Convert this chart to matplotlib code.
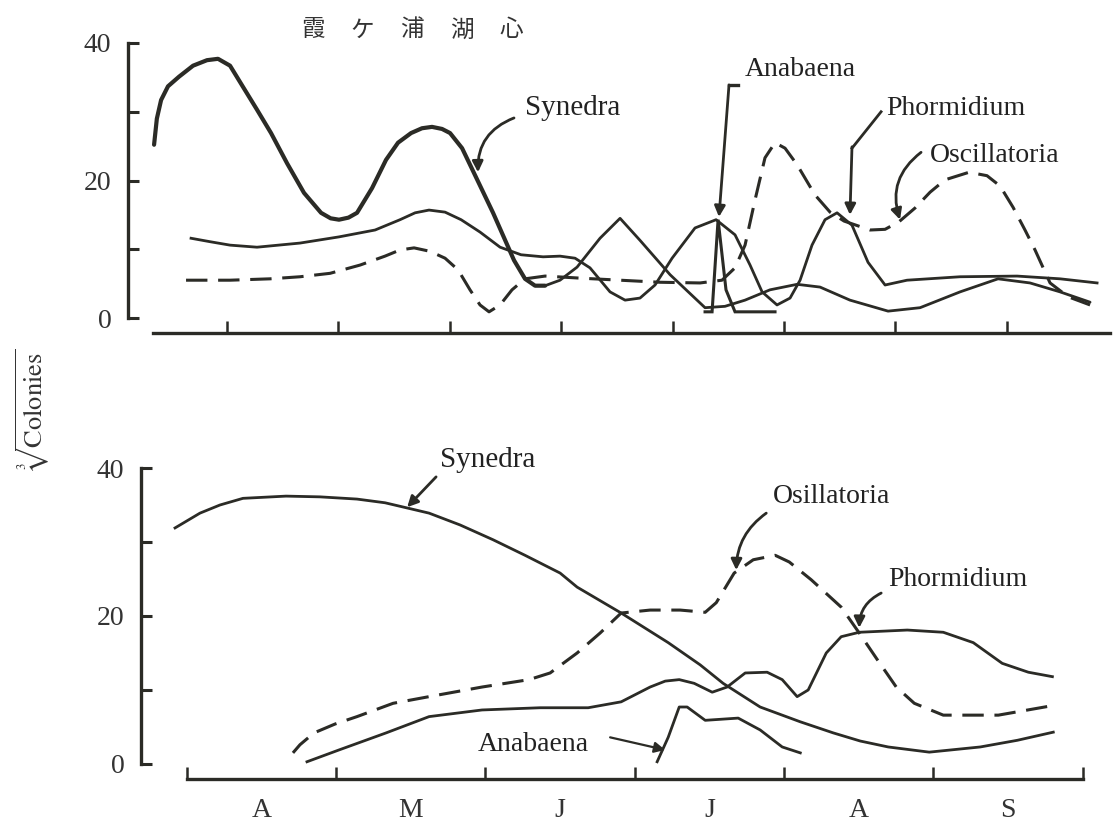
import matplotlib
matplotlib.use("Agg")
import matplotlib.pyplot as plt
import numpy as np

plt.rcParams['font.family'] = ['Liberation Serif', 'DejaVu Sans']
plt.rcParams['mathtext.fontset'] = 'stix'

# ---------------- data: top panel (霞ヶ浦湖心) ----------------
top_synedra_x = [-0.655, -0.630, -0.592, -0.530, -0.431, -0.305, -0.180, -0.081, 0.027, 0.144, 0.269,
                 0.395, 0.539, 0.691, 0.844, 0.930, 1.005, 1.090, 1.167, 1.302, 1.427, 1.535, 1.652,
                 1.750, 1.840, 1.930, 2.002, 2.110, 2.190, 2.388, 2.576, 2.675, 2.765, 2.855]
top_synedra_y = [25.2, 29.0, 31.7, 33.7, 35.1, 36.7, 37.5, 37.7, 36.7, 33.6, 30.3,
                 26.9, 22.5, 18.2, 15.3, 14.5, 14.3, 14.6, 15.3, 18.9, 23.0, 25.5, 26.9,
                 27.6, 27.8, 27.5, 26.9, 24.7, 22.0, 15.3, 8.4, 5.7, 4.7, 4.7]
top_synedra2_x = [2.855, 2.989, 3.142, 3.348, 3.528, 3.707, 3.977, 4.291, 4.470, 4.650,
                  4.874, 5.117, 5.323, 5.592, 5.934, 6.221, 6.580, 6.921, 7.208, 7.478, 7.747]
top_synedra2_y = [4.7, 5.5, 7.4, 11.6, 14.5, 11.3, 6.3, 1.5, 1.7, 2.6,
                  4.1, 4.9, 4.5, 2.6, 1.0, 1.5, 3.8, 5.7, 5.1, 3.8, 2.3]

top_phorm_x = [-0.323, -0.153, 0.027, 0.269, 0.655, 1.005, 1.329, 1.553, 1.688, 1.813,
               1.957, 2.101, 2.271, 2.451, 2.639, 2.837, 2.989, 3.124, 3.258, 3.438,
               3.573, 3.707, 3.842, 3.995, 4.201, 4.390, 4.560, 4.695, 4.803, 4.937,
               5.054, 5.144, 5.251, 5.368, 5.476, 5.610, 5.754, 5.907, 6.104, 6.580,
               7.092, 7.478, 7.810]
top_phorm_y = [11.6, 11.1, 10.6, 10.3, 10.9, 11.8, 12.8, 14.3, 15.3, 15.7,
               15.4, 14.3, 12.5, 10.3, 9.2, 8.9, 9.0, 8.7, 7.3, 3.8,
               2.6, 2.9, 4.8, 8.7, 13.1, 14.3, 12.1, 7.7, 3.8, 1.9,
               2.9, 5.5, 10.6, 14.3, 15.3, 13.5, 8.1, 4.8, 5.5, 6.0,
               6.1, 5.7, 5.1]

top_oscill_x = [-0.368, 0.027, 0.386, 0.655, 0.925, 1.194, 1.418, 1.553, 1.679, 1.822,
                1.957, 2.074, 2.181, 2.271, 2.352, 2.451, 2.558, 2.675, 2.855, 3.169,
                3.528, 3.887, 4.246, 4.443, 4.560, 4.650, 4.740, 4.829, 4.919, 5.009,
                5.117, 5.278, 5.413, 5.539, 5.772, 5.907, 6.032, 6.176, 6.311, 6.445,
                6.661, 6.822, 6.939, 7.056, 7.163, 7.253, 7.388, 7.549, 7.747]
top_oscill_y = [5.5, 5.5, 5.7, 6.0, 6.5, 7.7, 9.0, 9.9, 10.2, 9.7,
                8.7, 7.0, 4.1, 1.9, 0.9, 1.9, 4.1, 5.7, 6.1, 5.8,
                5.5, 5.2, 5.1, 5.5, 7.3, 10.6, 17.2, 23.3, 25.5, 24.7,
                22.3, 17.9, 15.4, 14.1, 12.8, 12.9, 14.0, 16.0, 18.3, 20.1,
                21.2, 20.7, 19.2, 16.1, 12.8, 9.9, 5.1, 3.1, 1.9]

top_anab_x = [4.291, 4.354, 4.408, 4.479, 4.560, 4.919]
top_anab_y = [0.9, 0.9, 14.3, 4.1, 0.9, 0.9]

# ---------------- data: bottom panel ----------------
bot_synedra_x = [-0.080, 0.087, 0.221, 0.375, 0.664, 0.891, 1.139, 1.327, 1.475, 1.622,
                 1.830, 2.051, 2.265, 2.500, 2.614, 2.909, 3.224, 3.438, 3.592, 3.840,
                 4.109, 4.330, 4.511, 4.698, 4.973, 5.315, 5.563, 5.804]
bot_synedra_y = [31.9, 33.9, 35.0, 35.9, 36.2, 36.1, 35.8, 35.3, 34.6, 33.9,
                 32.3, 30.3, 28.2, 25.8, 23.9, 20.4, 16.4, 13.4, 10.9, 7.7,
                 5.7, 4.2, 3.1, 2.3, 1.6, 2.3, 3.2, 4.3]

bot_oscill_x = [0.710, 0.757, 0.851, 0.992, 1.139, 1.381, 1.622, 1.977, 2.292, 2.433,
                2.614, 2.768, 2.909, 3.103, 3.304, 3.472, 3.546, 3.666, 3.794, 3.941,
                4.035, 4.182, 4.383, 4.504, 4.625, 4.752, 4.873, 5.067, 5.436, 5.831]
bot_oscill_y = [1.5, 2.6, 4.2, 5.4, 6.4, 8.2, 9.1, 10.4, 11.4, 12.3,
                15.0, 17.7, 20.4, 20.8, 20.8, 20.5, 21.8, 25.8, 27.6, 28.2,
                27.3, 24.9, 21.2, 17.7, 14.1, 10.4, 8.2, 6.6, 6.6, 8.0]

bot_phorm_x = [0.804, 1.019, 1.334, 1.622, 1.977, 2.366, 2.688, 2.909, 3.103, 3.204,
               3.298, 3.398, 3.519, 3.619, 3.740, 3.887, 3.988, 4.088, 4.162, 4.283,
               4.383, 4.504, 4.826, 5.067, 5.268, 5.462, 5.637, 5.798]
bot_phorm_y = [0.3, 1.9, 4.2, 6.4, 7.3, 7.6, 7.6, 8.4, 10.4, 11.2,
               11.4, 10.9, 9.7, 10.4, 12.3, 12.4, 11.4, 9.1, 10.0, 15.0,
               17.2, 17.8, 18.1, 17.8, 16.4, 13.6, 12.4, 11.8]

bot_anab_x = [3.150, 3.224, 3.298, 3.351, 3.472, 3.693, 3.840, 3.988, 4.109]
bot_anab_y = [0.3, 3.6, 7.7, 7.7, 5.9, 6.2, 4.6, 2.3, 1.5]

month_labels = ['A', 'M', 'J', 'J', 'A', 'S']
yticks = [0, 20, 40]
title_chars = ['霞', 'ケ', '浦', '湖', '心']

INK = '#2b2b26'
W, H = 1115, 832
fig = plt.figure(figsize=(W / 100, H / 100), dpi=100)
fig.patch.set_facecolor('white')

DASH = (0, (7, 3.5))
FS = 20


def style_axes(ax, xb):
    for s in ['top', 'right']:
        ax.spines[s].set_visible(False)
    for s in ['left', 'bottom']:
        ax.spines[s].set_linewidth(2.4)
        ax.spines[s].set_color(INK)
        ax.spines[s].set_capstyle('projecting')
    ax.spines['left'].set_bounds(0, 40)
    ax.spines['bottom'].set_bounds(*xb)
    ax.set_yticks(yticks)
    ax.set_yticks([10, 30], minor=True)
    ax.tick_params(axis='y', which='both', direction='in', length=8, width=2.2,
                   colors=INK, labelsize=FS, pad=12, labelcolor='#333333')
    ax.tick_params(axis='x', which='major', direction='in', length=9, width=1.8,
                   colors=INK)
    ax.set_facecolor('none')


# ---------------- top panel ----------------
ax1 = fig.add_axes([128 / W, 1 - 333 / H, (1112 - 128) / W, (333 - 43) / H])
ax1.set_xlim(-0.889, 7.944)
ax1.set_ylim(-2.18, 40)
style_axes(ax1, (-0.664, 7.93))
ax1.set_xticks(range(8))
ax1.set_xticklabels([])

ax1.plot(top_synedra_x, top_synedra_y, color=INK, lw=3.0, solid_capstyle='round',
         solid_joinstyle='round')
ax1.plot(top_synedra2_x, top_synedra2_y, color=INK, lw=2.0, solid_capstyle='round',
         solid_joinstyle='round')
ax1.plot(top_phorm_x, top_phorm_y, color=INK, lw=2.0, solid_joinstyle='round')
ax1.plot(top_oscill_x, top_oscill_y, color=INK, lw=2.2, linestyle=DASH)
ax1.plot(top_anab_x, top_anab_y, color=INK, lw=2.2, solid_joinstyle='miter')

ap = dict(arrowstyle='-|>', color=INK, lw=2.0, mutation_scale=16, shrinkA=0, shrinkB=0)
ax1.text(2.675, 30.5, 'Synedra', fontsize=21, va='center', ha='left', color='#222')
ax1.annotate('', xy=(2.253, 21.2), xytext=(2.576, 29.1),
             arrowprops=dict(ap, connectionstyle='arc3,rad=0.35'))
ax1.text(4.650, 36.1, 'Anabaena', fontsize=FS, va='center', ha='left', color='#222')
ax1.plot([4.587, 4.506], [33.9, 33.9], color=INK, lw=2.4)
ax1.annotate('', xy=(4.416, 14.7), xytext=(4.506, 33.9), arrowprops=ap)
ax1.text(5.916, 30.5, 'Phormidium', fontsize=FS, va='center', ha='left', color='#222')
ax1.plot([5.871, 5.610], [30.0, 24.7], color=INK, lw=2.0)
ax1.annotate('', xy=(5.592, 15.0), xytext=(5.610, 24.9), arrowprops=ap)
ax1.text(6.311, 23.7, 'Oscillatoria', fontsize=FS, va='center', ha='left', color='#222')
ax1.annotate('', xy=(6.041, 14.3), xytext=(6.230, 24.1),
             arrowprops=dict(ap, connectionstyle='arc3,rad=0.35'))

# ---------------- bottom panel ----------------
ax2 = fig.add_axes([141 / W, 1 - 779 / H, (1090 - 141) / W, (779 - 468) / H])
ax2.set_xlim(-0.308, 6.05)
ax2.set_ylim(-2.03, 40)
style_axes(ax2, (0, 6))
ax2.set_xticks(range(7))
ax2.set_xticklabels([])
ax2.set_xticks([i + 0.5 for i in range(6)], minor=True)
ax2.set_xticklabels(month_labels, minor=True)
ax2.tick_params(axis='x', which='minor', length=0, labelsize=FS, pad=14,
                labelcolor='#333333')

ax2.plot(bot_synedra_x, bot_synedra_y, color=INK, lw=2.0, solid_joinstyle='round')
ax2.plot(bot_oscill_x, bot_oscill_y, color=INK, lw=2.2, linestyle=DASH)
ax2.plot(bot_phorm_x, bot_phorm_y, color=INK, lw=2.0, solid_joinstyle='round')
ax2.plot(bot_anab_x, bot_anab_y, color=INK, lw=2.0, solid_joinstyle='round')

ax2.text(1.696, 41.1, 'Synedra', fontsize=21, va='center', ha='left', color='#222')
ax2.annotate('', xy=(1.475, 34.7), xytext=(1.669, 38.8), arrowprops=ap)
ax2.text(3.928, 36.1, 'Osillatoria', fontsize=FS, va='center', ha='left', color='#222')
ax2.annotate('', xy=(3.680, 26.2), xytext=(3.881, 33.9),
             arrowprops=dict(ap, connectionstyle='arc3,rad=0.25'))
ax2.text(4.698, 24.9, 'Phormidium', fontsize=FS, va='center', ha='left', color='#222')
ax2.annotate('', xy=(4.504, 18.4), xytext=(4.651, 23.1),
             arrowprops=dict(ap, connectionstyle='arc3,rad=0.3'))
ax2.text(1.950, 2.6, 'Anabaena', fontsize=FS, va='center', ha='left', color='#222')
ax2.annotate('', xy=(3.204, 1.9), xytext=(2.835, 3.6),
             arrowprops=dict(ap, lw=1.6))

# ---------------- titles ----------------
for i, ch in enumerate(title_chars):
    fig.text((313 + 49.5 * i) / W, 1 - 30 / H, ch, fontsize=17, ha='center', va='center',
             family=['Noto Sans CJK JP', 'DejaVu Sans'], color='#333333')
fig.text(33 / W, 1 - 410 / H, r'$\sqrt[3]{\mathrm{Colonies}}$', fontsize=19,
         rotation=90, ha='center', va='center', color='#333333')

fig.savefig('out.png', dpi=100, facecolor='white')
